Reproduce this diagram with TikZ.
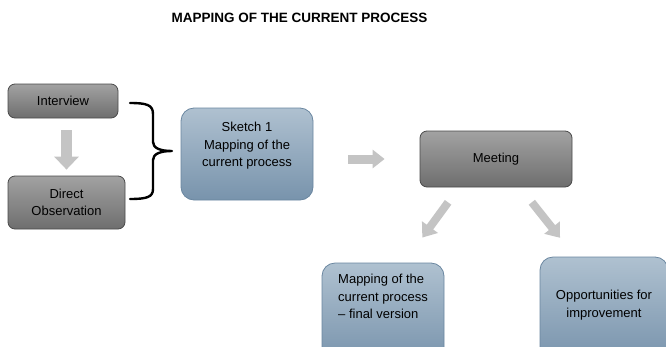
\documentclass[tikz,border=0pt]{standalone}
\usepackage{fontspec}
\setmainfont{Liberation Sans}
\usetikzlibrary{arrows.meta}
\definecolor{grayTop}{HTML}{A2A2A2}
\definecolor{grayBot}{HTML}{6E6E6E}
\definecolor{grayEdge}{HTML}{4A4A4A}
\definecolor{blueTop}{HTML}{AFC1D0}
\definecolor{blueBot}{HTML}{7893AC}
\definecolor{blueEdge}{HTML}{6A86A0}
\definecolor{arrowGray}{HTML}{C4C4C4}
\tikzset{
  graybox/.style={draw=grayEdge, line width=0.8pt, rounded corners=7pt,
    top color=grayTop, bottom color=grayBot, align=center,
    font=\fontsize{13}{16.5}\selectfont, inner sep=0pt},
  bluebox/.style={draw=blueEdge, line width=0.8pt, rounded corners=13pt,
    top color=blueTop, bottom color=blueBot,
    font=\fontsize{13}{17.5}\selectfont, inner sep=0pt},
  flowarrow/.style={draw=arrowGray, line width=#1},
  flowarrow/.default=9pt,
}
\begin{document}
\begin{tikzpicture}[x=1pt, y=-1pt]
\useasboundingbox (0,0) rectangle (666,346);
\clip (0,0) rectangle (666,346);

% title
\node (title) at (299.5,18) {\fontsize{13.5}{16}\selectfont\bfseries MAPPING OF THE CURRENT PROCESS};

% data collection
\node[graybox, minimum width=110pt, minimum height=34pt] (interview) at (63,101) {Interview};
\node[graybox, minimum width=117pt, minimum height=53pt] (direct) at (66.5,202.5) {Direct\\Observation};

% first sketch
\node[bluebox, align=center, minimum width=132pt, minimum height=92pt, text depth=19pt] (sketch) at (247,154) {Sketch 1\\Mapping of the\\current process};

% meeting
\node[graybox, minimum width=152pt, minimum height=56pt] (meeting) at (496,159) {Meeting};

% results
\node[bluebox, align=left, minimum width=122pt, minimum height=100pt, text depth=33pt] (final) at (383,313) {Mapping of the\\current process\\– final version};
\node[bluebox, align=center, minimum width=128pt, minimum height=104pt, text depth=10pt] (opportunities) at (604,309) {Opportunities for\\improvement};

% brace grouping the two methods
\draw[line width=2.4pt, line cap=round, line join=round]
  (130,103) .. controls (147,103) and (153,105) .. (153,114)
  -- (153,142) .. controls (153,148) and (160,151) .. (172,151)
  .. controls (160,151) and (153,154) .. (153,160)
  -- (153,189) .. controls (153,197) and (147,199) .. (130,199);

% connectors
\draw[flowarrow=11pt, -{Triangle[width=24pt,length=13pt]}, shorten <=12pt, shorten >=6pt]
  (interview.south -| direct.south) -- (direct.north);
\draw[flowarrow=9pt, -{Triangle[width=18pt,length=12pt]}, shorten <=35pt, shorten >=35pt]
  (sketch.east |- meeting.west) -- (meeting.west);
\draw[flowarrow=8pt, -{Triangle[width=19pt,length=13pt]}, shorten <=18.5pt, shorten >=31pt]
  ([xshift=-37pt]meeting.south) -- ([xshift=21pt]final.north);
\draw[flowarrow=8pt, -{Triangle[width=19pt,length=13pt]}, shorten <=19pt, shorten >=24pt]
  ([xshift=24pt]meeting.south) -- ([xshift=-29pt]opportunities.north);
\end{tikzpicture}
\end{document}
